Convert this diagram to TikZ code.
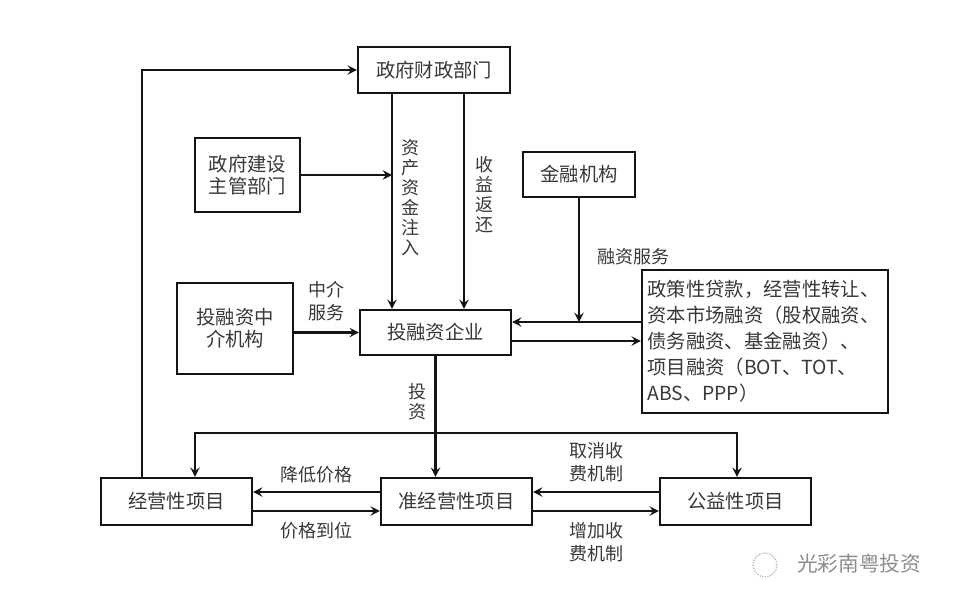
\documentclass[tikz,border=0pt]{standalone}
\usepackage{fontspec}
\newfontfamily\cjk{Noto Sans CJK SC}
\usetikzlibrary{arrows.meta,positioning,calc}
\definecolor{ink}{HTML}{141414}
\definecolor{txt}{HTML}{383838}
\definecolor{wmark}{HTML}{8C8C8C}
\tikzset{
  pbox/.style={draw=ink,line width=1.6pt,fill=white,text=txt,inner sep=2pt,
    font=\cjk\fontsize{14.5}{16.5}\selectfont,align=center},
  wbox/.style={pbox,align=left,inner sep=4pt,text width=176.5pt,
    font=\cjk\fontsize{14.5}{19.5}\selectfont},
  parr/.style={-{Stealth[length=7pt,width=7pt,inset=2.5pt]},line width=1.6pt,color=ink},
  darr/.style={{Stealth[length=7pt,width=7pt,inset=2.5pt]}-{Stealth[length=7pt,width=7pt,inset=2.5pt]},
    line width=1.6pt,color=ink},
  plab/.style={text=txt,inner sep=0pt,font=\cjk\fontsize{13.5}{17}\selectfont,align=center},
  vlab/.style={plab,font=\cjk\fontsize{13.5}{15}\selectfont},
}

\begin{document}
\begin{tikzpicture}[x=0.75pt,y=-0.75pt]
  \useasboundingbox (0,0) rectangle (954,604);
  % boxes
  \node[pbox,minimum width=114pt,minimum height=34.5pt] (caizheng) at (434,70) {政府财政部门};
  \node[pbox,minimum width=78.75pt,minimum height=55.5pt] (jianshe) at (247.5,175) {政府建设\\主管部门};
  \node[pbox,minimum width=84pt,minimum height=33.75pt] (jinrong) at (579,174.5) {金融机构};
  \node[pbox,minimum width=87pt,minimum height=68.25pt] (zhongjie) at (235,328.5) {投融资中\\介机构};
  \node[pbox,minimum width=113.25pt,minimum height=33.75pt] (qiye) at (435.5,332.5) {投融资企业};
  \node[wbox,minimum height=107.25pt] (rongzi) at (765,341.5)
    {政策性贷款，经营性转让、\\资本市场融资（股权融资、\\债务融资、基金融资）、\\项目融资（BOT、TOT、\\ABS、PPP）};
  \node[pbox,minimum width=113.25pt,minimum height=35.25pt] (jingying) at (176.5,501.5) {经营性项目};
  \node[pbox,minimum width=113.25pt,minimum height=35.25pt] (zhun) at (456.5,501.5) {准经营性项目};
  \node[pbox,minimum width=113.25pt,minimum height=35.25pt] (gongyi) at (735.5,501.5) {公益性项目};

  % guide points for the connectors
  \coordinate (lx) at (142,0); \coordinate (zx) at (392,0); \coordinate (sx) at (464,0);
  \coordinate (r1) at (0,322); \coordinate (r2) at (0,341);
  \coordinate (hl) at (195,433); \coordinate (hr) at (737,433);
  \coordinate (b1) at (0,492); \coordinate (b2) at (0,511);

  % upper part
  \draw[parr] (jingying.north -| lx) |- (caizheng.west);
  \draw[parr] (caizheng.south -| zx) -- node[pos=0.48,right=6pt,vlab]{资\\产\\资\\金\\注\\入} (qiye.north -| zx);
  \draw[parr] (caizheng.south -| sx) -- node[pos=0.47,right=8pt,vlab]{收\\益\\返\\还} (qiye.north -| sx);
  \draw[parr] (jianshe.east) -- (jianshe.east -| zx);
  \draw[parr] (jinrong.south) -- node[pos=0.47,right=13pt,plab]{融资服务} (jinrong.south |- r1);
  \draw[parr] (rongzi.west |- r1) -- (qiye.east |- r1);
  \draw[parr] (qiye.east |- r2) -- (rongzi.west |- r2);
  \draw[parr] (zhongjie.east |- qiye.west) -- node[above=8pt,plab]{中介\\服务} (qiye.west);
  \draw[parr] (qiye.south) -- node[pos=0.38,left=6pt,vlab]{投\\资} (qiye.south |- zhun.north);

  % lower part
  \draw[darr] (jingying.north -| hl) -- (hl) -- (hr) -- (gongyi.north -| hr);
  \draw[parr] (zhun.west |- b1) -- node[above=6pt,plab]{降低价格} (jingying.east |- b1);
  \draw[parr] (jingying.east |- b2) -- node[below=8pt,plab]{价格到位} (zhun.west |- b2);
  \draw[parr] (gongyi.west |- b1) -- node[above=7pt,plab]{取消收\\费机制} (zhun.east |- b1);
  \draw[parr] (zhun.east |- b2) -- node[below=8pt,plab]{增加收\\费机制} (gongyi.west |- b2);

  % watermark
  \draw[wmark!60,densely dotted,line width=1pt] (765,565) circle (9pt);
  \node[text=wmark,inner sep=0pt,font=\cjk\fontsize{15.5}{17}\selectfont] (wm) at (859,564) {光彩南粤投资};
\end{tikzpicture}
\end{document}
